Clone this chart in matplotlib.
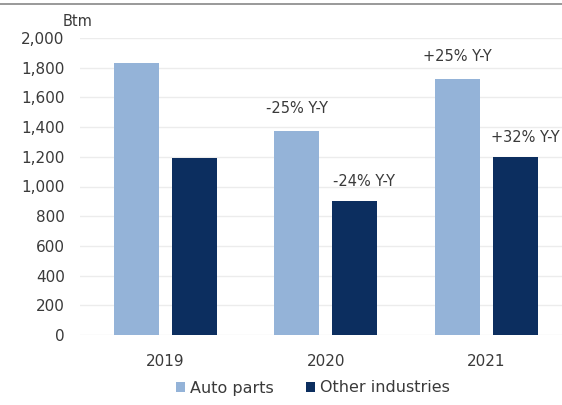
import numpy as np
import matplotlib.pyplot as plt
from matplotlib.lines import Line2D

# -----------------------------
# Data
# -----------------------------
years = ["2019", "2020", "2021"]
auto_parts = [1830, 1375, 1725]
other_industries = [1195, 905, 1200]
auto_labels = [None, "-25% Y-Y", "+25% Y-Y"]
other_labels = [None, "-24% Y-Y", "+32% Y-Y"]

LIGHT = "#94B3D8"
DARK = "#0C2E5F"
TEXT = "#3a3a3a"

# -----------------------------
# Figure
# -----------------------------
fig = plt.figure(figsize=(5.62, 4.05), dpi=100)
ax = fig.add_axes([80 / 562, 1 - 335 / 405, 482 / 562, 297 / 405])

x = np.arange(len(years))
w = 0.28
off = 0.18

b1 = ax.bar(x - off, auto_parts, w, color=LIGHT, label="Auto parts", zorder=2)
b2 = ax.bar(x + off, other_industries, w, color=DARK, label="Other industries", zorder=2)

# Y-Y change labels above bars
for i in range(len(years)):
    if auto_labels[i]:
        ax.annotate(auto_labels[i], (x[i] - off, auto_parts[i]), xytext=(0, 16),
                    textcoords="offset points", ha="center", va="center",
                    fontsize=10.5, color=TEXT, annotation_clip=False)
    if other_labels[i]:
        ax.annotate(other_labels[i], (x[i] + off + 0.06, other_industries[i]), xytext=(0, 14),
                    textcoords="offset points", ha="center", va="center",
                    fontsize=10.5, color=TEXT, annotation_clip=False)

ax.set_xlim(-0.53, 2.47)
ax.set_ylim(0, 2000)
ax.set_yticks(range(0, 2001, 200))
ax.set_yticklabels([f"{v:,}" for v in range(0, 2001, 200)])
ax.set_xticks(x)
ax.set_xticklabels(years)
ax.tick_params(length=0, labelsize=11, labelcolor=TEXT)
ax.tick_params(axis="x", pad=14)
ax.tick_params(axis="y", pad=11)
ax.grid(axis="y", color="#ececec", linewidth=1, zorder=0)
for s in ax.spines.values():
    s.set_visible(False)

ax.text(0.025, 1.057, "Btm", transform=ax.transAxes, ha="right", va="center",
        fontsize=10.5, color=TEXT)

fig.legend(handles=[b1, b2], loc="center", bbox_to_anchor=(313 / 562, 1 - 388 / 405),
           ncol=2, frameon=False, fontsize=11.5, handlelength=0.6, handleheight=0.6,
           handletextpad=0.3, columnspacing=2.0, labelcolor=TEXT)

# thin rule along the top
fig.add_artist(Line2D([0, 1], [1 - 4 / 405, 1 - 4 / 405], color="#888888", linewidth=1.2))

fig.savefig("out.png", dpi=100)
